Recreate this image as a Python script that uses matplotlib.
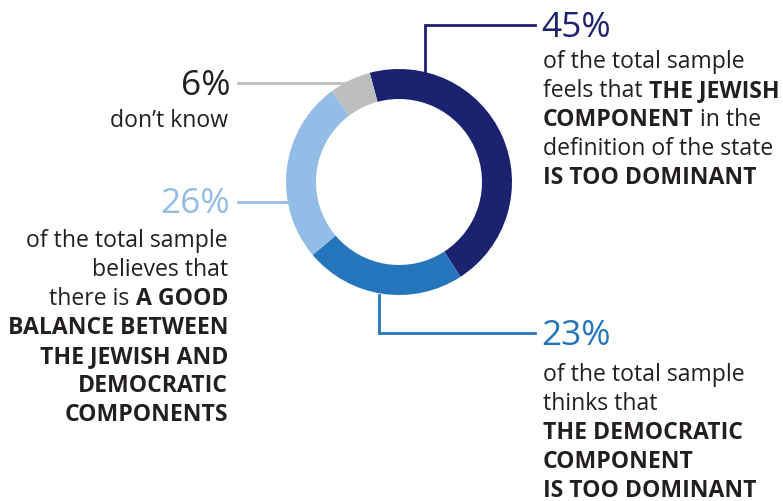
import matplotlib.pyplot as plt

# share of the total sample per answer, clockwise from the top
shares = [45, 23, 26, 6]
colors = ['#1b2270', '#2575bd', '#93bde6', '#bcbec0']
pct_labels = ['45%', '23%', '26%', '6%']
pct_colors = ['#1b2270', '#2575bd', '#93bde6', '#231f20']

# each label is a list of lines, each line a list of (text, bold) runs
label_45 = [
    [('of the total sample', False)],
    [('feels that ', False), ('THE JEWISH', True)],
    [('COMPONENT', True), (' in the', False)],
    [('definition of the state', False)],
    [('IS TOO DOMINANT', True)],
]
label_23 = [
    [('of the total sample', False)],
    [('thinks that', False)],
    [('THE DEMOCRATIC', True)],
    [('COMPONENT', True)],
    [('IS TOO DOMINANT', True)],
]
label_26 = [
    [('of the total sample', False)],
    [('believes that', False)],
    [('there is ', False), ('A GOOD', True)],
    [('BALANCE BETWEEN', True)],
    [('THE JEWISH AND', True)],
    [('DEMOCRATIC', True)],
    [('COMPONENTS', True)],
]
label_6 = [
    [('don\u2019t know', False)],
]

W, H = 783, 502
FONT = 'Open Sans'
TXT = '#231f20'
BODY_SIZE = 16.6
PCT_SIZE = 25.5
LINE = 29

fig = plt.figure(figsize=(W / 100, H / 100), dpi=100)
ax = fig.add_axes([0, 0, 1, 1])
ax.set_xlim(0, W)
ax.set_ylim(0, H)
ax.axis('off')

cx, cy, r = 399, H - 183, 113
ax.pie(shares, colors=colors, radius=r, center=(cx, cy),
       startangle=105, counterclock=False,
       wedgeprops=dict(width=30, linewidth=0))
ax.set_xlim(0, W)
ax.set_ylim(0, H)
ax.set_aspect('equal')

renderer = fig.canvas.get_renderer()


def text_width(t):
    bb = t.get_window_extent(renderer=renderer)
    return bb.width


def draw_lines(lines, x, y_top, align='left'):
    # y_top is the baseline of the first line, in pixels from the top
    for i, runs in enumerate(lines):
        y = H - (y_top + i * LINE)
        arts = []
        for txt, bold in runs:
            arts.append(ax.text(0, y, txt, fontsize=BODY_SIZE, family=FONT,
                                fontweight='bold' if bold else 'normal',
                                color=TXT, ha='left', va='baseline'))
        widths = [text_width(a) for a in arts]
        start = x if align == 'left' else x - sum(widths)
        for a, w in zip(arts, widths):
            a.set_x(start)
            start += w


def draw_pct(txt, color, x, y, align='left'):
    ax.text(x, H - y, txt, fontsize=PCT_SIZE, family=FONT, color=color,
            ha=align, va='baseline')


# leader lines
lw = 2
ax.plot([425, 425, 535], [H - 73, H - 26, H - 26], color=colors[0], lw=lw,
        solid_joinstyle='miter')
ax.plot([379, 379, 535], [H - 296, H - 334, H - 334], color=colors[1], lw=lw,
        solid_joinstyle='miter')
ax.plot([238, 345], [H - 84, H - 84], color=colors[3], lw=lw)
ax.plot([238, 288], [H - 203, H - 203], color=colors[2], lw=lw)

draw_pct(pct_labels[0], pct_colors[0], 541, 37)
draw_lines(label_45, 543, 68)

draw_pct(pct_labels[1], pct_colors[1], 541, 345)
draw_lines(label_23, 543, 381)

draw_pct(pct_labels[2], pct_colors[2], 230, 213, align='right')
draw_lines(label_26, 228, 247, align='right')

draw_pct(pct_labels[3], pct_colors[3], 230, 95, align='right')
draw_lines(label_6, 228, 127, align='right')

fig.savefig('out.png', dpi=100)
